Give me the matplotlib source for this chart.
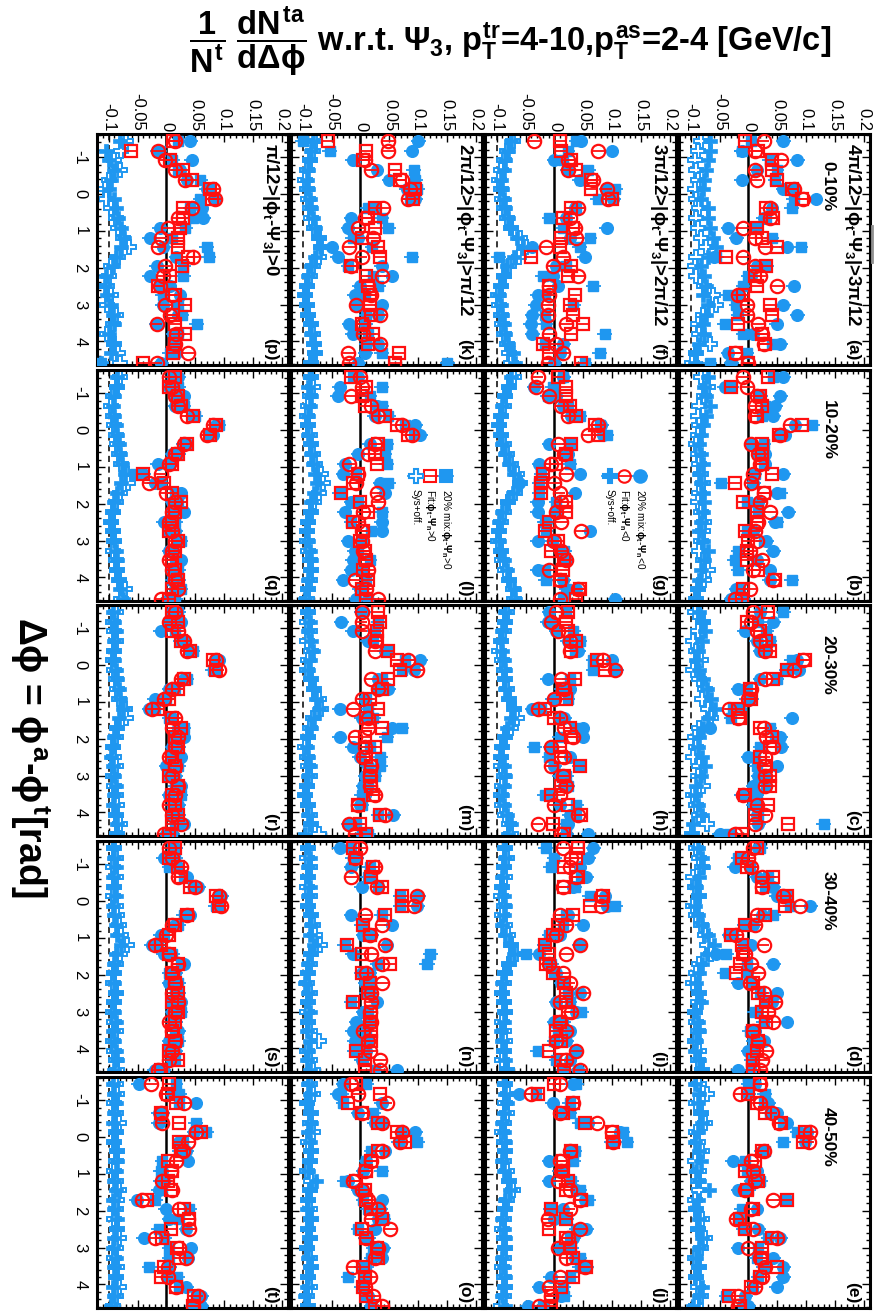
import matplotlib
matplotlib.use("Agg")
import matplotlib.pyplot as plt
from matplotlib.ticker import MultipleLocator, FixedLocator, FixedFormatter
from matplotlib.lines import Line2D

plt.rcParams['font.family'] = ['Liberation Sans', 'DejaVu Sans']
plt.rcParams['mathtext.fontset'] = 'custom'
plt.rcParams['mathtext.rm'] = 'Liberation Sans:bold'
plt.rcParams['mathtext.it'] = 'Liberation Sans:bold'
plt.rcParams['mathtext.bf'] = 'Liberation Sans:bold'
plt.rcParams['axes.unicode_minus'] = False

# Delta-phi bin centres [rad]
dphi = [-1.44, -1.18, -0.92, -0.65, -0.39, -0.13, 0.13, 0.39, 0.65, 0.92, 1.18, 1.44,
        1.70, 1.96, 2.23, 2.49, 2.75, 3.01, 3.27, 3.53, 3.80, 4.06, 4.32, 4.58]

centralities = ["0-10%", "10-20%", "20-30%", "30-40%", "40-50%"]
angle_bins = [r"$\pi$/12>|$\phi_{t}$-$\Psi_{3}$|>0",
              r"2$\pi$/12>|$\phi_{t}$-$\Psi_{3}$|>$\pi$/12",
              r"3$\pi$/12>|$\phi_{t}$-$\Psi_{3}$|>2$\pi$/12",
              r"4$\pi$/12>|$\phi_{t}$-$\Psi_{3}$|>3$\pi$/12"]
# panel letters: one string per angle bin, one letter per centrality
panel_ids = ["pqrst", "klmno", "fghij", "abcde"]

value_ticks = [-0.1, -0.05, 0, 0.05, 0.1, 0.15, 0.2]
value_tick_labels = ["-0.1", "-0.05", "0", "0.05", "0.1", "0.15", "0.2"]
dphi_ticks = [-1, 0, 1, 2, 3, 4]
dphi_tick_labels = ["-1", "0", "1", "2", "3", "4"]

# per-trigger pair yields, units of 1e-3
# 20% mixing, phi_t - Psi_n < 0
mix_lt0 = {
    "a": [60, -12, 84, 14, -12, 60, 116, 40, 26, -35, -21, 66, -59, 14, 5, 78, -18, 60, 84, 49, 8, 55, -35, -30],
    "b": [60, -41, 55, 46, 43, 81, 63, 5, 28, 28, 60, 8, 49, 17, 69, 46, 8, 31, 43, 14, 37, 37, -21, -30],
    "c": [20, 43, -6, 14, 20, 84, 87, 20, -18, 5, -15, 75, -67, 55, 57, 0, 49, 17, 8, -12, 14, 14, 17, -50],
    "d": [17, -12, -24, 14, 43, 49, 107, 23, 8, -33, 5, -56, 43, -3, -18, 49, 40, 14, 66, 11, 26, 0, 8, -18],
    "e": [11, 0, 34, 49, 66, 101, 98, 23, -27, 14, 5, -18, 66, 14, -15, 17, 55, -18, 43, 60, 60, 49, -6, 0],
    "f": [45, 99, 0, 23, 44, 90, 102, 35, 20, 90, 26, -38, 52, 3, -3, 6, -29, -32, -38, -41, -38, 15, 9, 0],
    "g": [15, -35, 3, 15, 29, 81, 84, -9, 23, -26, 44, -61, 35, -29, -29, -15, 61, -29, 15, 20, -29, 15, 38, 105],
    "h": [-9, -12, 3, 23, 41, 99, 107, -12, 26, -3, -38, 17, 49, 49, -6, 26, 0, 9, 17, -6, 9, 26, 23, 58],
    "i": [67, 58, 44, 55, 32, 87, 90, 23, 49, 9, 44, -26, -9, 3, 12, 44, 3, 38, 0, 26, 20, 38, 26, 41],
    "j": [32, -61, -3, 15, 58, 113, 99, 29, -9, 9, -9, 38, 52, 15, 0, 55, 32, 9, 35, 55, -6, -26, 12, -46],
    "k": [100, 89, -13, 28, 50, 80, 95, 25, -16, -21, -4, -50, -39, 37, 54, -1, -10, 37, 31, -19, -13, 31, 8, -4],
    "l": [-4, -36, -39, 28, 25, 95, 103, 16, -4, -27, -30, 34, 42, -16, -27, 37, 37, -21, -10, -13, -16, -30, -1, -7],
    "m": [5, -33, -13, 13, 42, 103, 92, 31, 48, 8, -36, 2, 54, -36, -13, -1, 13, 8, 5, 8, -1, 57, -21, 2],
    "n": [-36, -7, -16, 16, 2, 100, 98, -16, 54, 5, 45, -13, 30, 2, 8, 16, 28, 5, -7, -13, -10, 10, 2, 63],
    "o": [-30, -39, 37, -4, 25, 95, 66, 42, 10, 5, -21, -4, 37, 34, 31, 25, 8, 39, 37, 2, 8, 2, 13, 19],
    "p": [41, -15, 44, 23, 35, 70, 84, 61, 64, -12, -29, -6, 17, -17, -29, 6, 23, -6, 20, -17, 12, 15, 17, -9],
    "q": [20, 5, 30, 15, 45, 85, 80, 35, 10, -15, -40, -20, 25, 10, 30, -5, 15, 20, 5, 25, 10, 20, 15, 5],
    "r": [10, 25, -10, 30, 40, 90, 85, 30, 5, -20, -30, 10, 20, 30, 10, 25, 0, 15, 25, 5, 20, 10, 30, 0],
    "s": [15, -5, 20, 35, 55, 95, 90, 40, 15, -10, -25, -5, 30, 15, 5, 20, 25, 10, 15, 20, 5, 15, 10, -20],
    "t": [-48, 10, 51, -13, -13, 48, 22, 34, 37, -7, -4, -13, -51, -1, 5, 34, -39, 42, 37, 5, 2, 34, 60, 60],
}
# 20% mixing, phi_t - Psi_n > 0
mix_gt0 = {
    "a": [5, -12, 37, 49, 46, 78, 78, 75, 31, 14, 40, 90, -56, 31, 0, -9, -35, -21, -18, -41, -9, 40, -3, -67],
    "b": [43, -30, 20, 28, 23, 110, 55, 26, 17, 26, 11, -47, 55, -3, 17, 49, -3, 26, -18, -24, -18, 75, -15, -9],
    "c": [60, 17, 31, 37, 30, 75, 66, 49, -3, -3, -27, -30, 37, 46, 20, 11, 14, 28, 31, 14, 8, 17, 130, -33],
    "d": [20, -18, 2, 34, 28, 66, 72, 43, -6, -27, -9, -38, -3, -41, 5, 20, 31, 11, 26, 2, 8, 11, 5, 5],
    "e": [0, 28, 26, 37, 60, 84, 60, 28, -6, -3, 20, 0, 63, -12, -18, -9, 34, 17, 14, 26, 17, 8, -38, -9],
    "f": [38, 23, 15, 58, 46, 105, 75, 38, -9, 15, 61, 44, -96, 20, -20, 67, -17, 32, -17, -15, 87, -17, 78, 52],
    "g": [15, -3, -12, 23, 44, 78, 90, 26, 20, 26, -23, -26, -26, 3, 3, -17, -15, -3, 17, 17, -17, -15, 20, 15],
    "h": [20, -6, 32, 44, 35, 67, 67, 26, 12, 23, -23, 9, 35, 9, -35, -9, 44, 20, 23, -17, 38, 38, 20, 20],
    "i": [-15, 0, -6, 46, 35, 61, 105, 20, 15, -9, -17, -49, -6, 0, 15, 23, 26, 46, 15, 6, 0, -29, 3, 15],
    "j": [38, -32, 26, 26, 44, 118, 125, 35, 32, 12, 29, 44, 58, -6, 20, 38, 26, 29, 44, 44, 26, 15, 17, -20],
    "k": [-100, -53, -10, 92, 95, 98, 85, 13, 37, 48, -13, 20, 89, -21, 22, 31, 8, -7, 10, 8, 13, 10, 37, 150],
    "l": [-13, 37, 16, 37, 48, 77, 92, 45, 42, 45, -7, 48, -36, -4, 37, -16, 19, 2, -4, 16, 2, 10, 5, 13],
    "m": [2, 31, 25, 22, 45, 77, 71, 37, 31, 10, 13, 22, 71, 45, 16, 34, 34, 25, 13, 2, 2, 31, -7, 13],
    "n": [-16, -13, 16, 13, 31, 69, 69, 37, 2, 19, -27, 121, 115, 16, 19, 10, -16, 13, 19, 10, 13, -10, 5, 25],
    "o": [10, -33, -30, 22, 37, 71, 98, 19, 10, 37, -27, 2, 5, 13, 40, -4, 13, 22, 19, 10, -21, 5, 10, 19],
    "p": [20, -12, 10, 20, 58, 73, 58, 41, 46, 32, 9, 70, 73, 29, 29, -12, -6, 20, 26, 52, 20, 15, 6, -113],
    "q": [10, 20, 15, 30, 50, 90, 75, 30, 20, 5, -55, -10, 15, 20, 10, 15, 5, 25, 10, 15, 20, 10, 25, 15],
    "r": [20, 5, 15, 25, 45, 85, 80, 35, 15, 0, -20, 5, 30, 15, 20, 10, 20, 5, 15, 25, 10, 20, 15, 10],
    "s": [10, 15, 5, 30, 45, 90, 85, 30, 20, -5, -15, 10, 25, 5, 20, 15, 10, 25, 10, 15, 20, 5, 15, -5],
    "t": [16, 22, 22, -7, 51, 69, 28, 22, -7, -10, -10, -7, -19, 39, 22, -13, -4, 5, 5, -30, 19, 22, 51, 45],
}
# fit, phi_t - Psi_n < 0
fit_lt0 = {
    "a": [26, 11, 57, 11, 14, 78, 95, 37, 37, -9, 11, 28, -9, 11, 20, 49, -18, -3, -3, 17, 23, 26, -24, 0],
    "b": [-9, -3, 14, 11, 11, 72, 55, 5, 17, 20, 8, 5, 26, 20, 37, 17, 11, 14, 3, 23, 8, 43, 3, -24],
    "c": [8, 5, 14, 20, 28, 95, 78, 28, 5, 0, -33, -18, 26, 31, 43, 28, 26, 28, 28, -9, 14, 28, 11, -24],
    "d": [8, 0, 5, 23, 23, 60, 89, 14, 11, -21, 26, -6, 5, 17, 3, 26, 46, 34, 43, 8, 17, 31, 23, 20],
    "e": [20, -15, 20, 40, 52, 107, 104, 26, 5, 8, 11, -6, 43, 5, -21, 8, 49, 0, 20, 28, 23, 11, -18, -18],
    "f": [-35, 75, 23, 23, 67, 90, 93, 41, 26, 35, 38, -15, 15, -3, 41, -9, -9, -12, -12, 20, -9, 3, 15, -12],
    "g": [-29, -32, -9, 12, 23, 75, 58, 6, 17, -6, 20, 0, 9, 12, 3, 12, 46, 0, 12, 20, -9, 9, 41, 9],
    "h": [3, -6, 6, 26, 26, 84, 105, 12, 17, 0, -29, 9, 17, 32, -6, 17, -6, 15, 20, 9, 0, 41, -29, 12],
    "i": [15, 29, 26, 38, 15, 81, 81, 9, 20, 3, 44, 20, -9, 15, 26, 49, 9, 29, 9, 20, 3, 38, 20, 44],
    "j": [9, -41, 32, 9, 73, 99, 102, 26, 9, 12, 6, 26, 44, 26, -12, 44, 23, 6, 20, 52, 9, -9, -6, -26],
    "k": [48, 48, 8, 19, 71, 86, 83, 39, 8, -4, 22, -19, 2, -16, 37, 13, 19, -7, 34, 5, 5, 34, -21, -19],
    "l": [-1, 2, -16, 19, 31, 71, 89, 25, 13, -19, -4, -7, 28, 31, 5, -4, 2, 2, 5, 8, 13, -10, 10, 31],
    "m": [2, 2, 2, 25, 25, 83, 98, 19, 31, 2, -13, 13, 13, -10, 8, 5, 19, 16, 16, 25, -4, 42, -19, -10],
    "n": [-1, -10, 25, -16, 28, 98, 92, 8, 37, 16, 42, 19, 37, 10, 37, 19, 19, 16, 19, 5, 13, 16, 34, 34],
    "o": [-16, -4, 45, 2, 37, 71, 69, 37, 19, 8, -13, 2, 13, 31, 19, 51, 10, 31, 25, -13, 16, 8, 22, 37],
    "p": [15, -15, -3, 15, 32, 81, 84, 44, 20, 3, -9, -15, 46, -3, -6, -12, 9, -3, 6, -17, 17, 15, 38, -17],
    "q": [5, 10, 15, 20, 35, 80, 70, 30, 15, 5, -10, -30, 0, 15, 10, 5, 10, 15, 10, 5, 10, 15, 20, -10],
    "r": [15, 5, 20, 30, 35, 85, 90, 25, 10, -5, -25, 15, 10, 20, 15, 5, 15, 10, 20, 15, 5, 10, 25, -5],
    "s": [5, 10, 25, 20, 50, 90, 95, 35, 10, 0, -20, 5, 20, 10, 15, 10, 20, 15, 5, 10, 15, 10, 5, -15],
    "t": [-27, -1, 31, -10, -7, 51, 37, 28, 16, 8, -7, 10, -42, 22, 37, 39, -19, 22, 34, 2, 2, 16, 54, 45],
}
# fit, phi_t - Psi_n > 0
fit_gt0 = {
    "a": [-6, 17, 40, 40, 49, 75, 92, 31, 43, 14, 23, 49, -38, 31, 11, 14, -9, 37, 40, -18, 23, 28, -21, 0],
    "b": [34, -30, 20, 23, 14, 92, 52, 23, 23, 23, 40, -24, 26, -9, 14, 14, -6, 0, -3, -3, 17, 46, -9, -12],
    "c": [34, -3, 20, 31, 37, 98, 66, 43, 2, 5, -18, -15, 20, 40, 37, 20, 31, 37, 37, -6, 34, 11, 69, -12],
    "d": [14, -12, -3, 43, 23, 66, 63, 28, -6, -30, -12, -9, -15, -21, 8, 17, 31, 23, 31, 8, 17, 14, 8, 8],
    "e": [20, 0, 14, 28, 57, 98, 95, 23, 11, -6, 17, -3, 66, 8, -15, -6, 40, 23, 23, 49, 20, 5, -33, -15],
    "f": [9, 12, 29, 38, 64, 64, 99, 29, 15, 32, 12, 9, -41, 29, 23, -9, 35, 26, 32, 49, 29, -20, -9, 46],
    "g": [6, 20, 20, 26, 38, 70, 75, 29, 20, 3, -20, -23, -23, 20, 20, -9, -17, 6, -6, 17, 15, 9, 44, 38],
    "h": [23, 20, 23, 38, 29, 73, 87, 35, 15, 20, -17, 0, 26, 29, 9, 12, 44, 17, 12, -6, 23, 46, -3, 17],
    "i": [41, 38, 17, 41, 17, 84, 61, 32, 6, -3, -17, -9, -15, -3, 17, 20, 20, 23, 9, 3, 12, -9, 12, 17],
    "j": [0, -29, 32, 15, 52, 99, 102, 29, 15, 15, 23, 20, 46, -6, 20, -9, 20, 26, 32, 55, 32, 12, -6, -6],
    "k": [-56, 10, 5, 60, 69, 95, 90, 25, 13, 25, 2, 31, 34, -16, 10, 13, 16, 16, 19, 2, 22, 13, 66, 60],
    "l": [-16, 10, 2, 8, 42, 63, 83, 31, 25, 28, -4, -13, -33, -1, 13, -13, 5, -1, 8, 10, 5, 13, 2, 10],
    "m": [31, 34, 28, 28, 48, 63, 69, 48, 37, 16, 31, 10, 37, 8, 25, 10, 19, 16, 19, 22, -4, 34, -1, 10],
    "n": [-13, -7, 22, 19, 37, 71, 71, 42, 5, 16, -24, 2, 51, 2, 16, 13, -13, 19, 16, 19, 19, -7, 8, 8],
    "o": [-7, 34, -21, 2, 31, 63, 77, 31, 19, 10, -7, 8, 10, 19, 37, 2, 10, 28, 31, 5, 8, 5, 10, 25],
    "p": [12, -61, 6, 29, 44, 75, 78, 29, 29, 23, 20, 20, 38, 26, 6, -15, 15, 32, 12, 15, 32, 15, 12, -41],
    "q": [15, 5, 20, 25, 45, 85, 75, 35, 20, 10, -40, -5, 10, 25, 15, 10, 5, 20, 15, 10, 15, 20, 10, 5],
    "r": [10, 20, 10, 25, 40, 80, 85, 30, 20, 5, -15, 10, 25, 15, 20, 10, 15, 5, 20, 10, 15, 20, 10, 5],
    "s": [15, 5, 20, 25, 40, 85, 90, 35, 15, 5, -10, 5, 20, 10, 15, 20, 10, 20, 15, 10, 15, 5, 20, -10],
    "t": [5, 2, 16, -10, 22, 60, 22, 25, 2, 10, 2, 8, -33, 31, 39, 8, -7, 19, 22, -4, -10, 16, 48, 45],
}
# systematic band drawn with an offset, for the "<0" set
sys_lt0 = {
    "a": [-67, -67, -70, -73, -76, -79, -82, -70, -70, -67, -62, -56, -70, -82, -76, -73, -79, -70, -73, -79, -76, -85, -93, -93],
    "b": [-70, -76, -73, -67, -73, -79, -82, -85, -82, -79, -85, -82, -79, -76, -79, -82, -85, -79, -70, -76, -82, -85, -88, -91],
    "c": [-85, -80, -75, -80, -88, -90, -85, -78, -72, -65, -58, -70, -78, -85, -88, -80, -75, -82, -90, -92, -88, -80, -95, -100],
    "d": [-88, -80, -78, -85, -90, -88, -92, -88, -80, -70, -60, -72, -80, -85, -90, -88, -82, -92, -88, -85, -90, -92, -85, -82],
    "e": [-92, -85, -88, -82, -80, -88, -92, -85, -82, -90, -85, -68, -88, -92, -85, -88, -80, -85, -90, -88, -92, -80, -85, -95],
    "f": [-75, -80, -85, -88, -92, -90, -88, -85, -80, -75, -65, -55, -70, -82, -88, -92, -95, -93, -90, -88, -85, -80, -72, -68],
    "g": [-75, -80, -85, -90, -93, -95, -93, -90, -85, -78, -70, -62, -72, -82, -90, -95, -97, -95, -92, -88, -82, -78, -70, -68],
    "h": [-85, -88, -90, -92, -90, -88, -85, -88, -85, -80, -70, -75, -82, -88, -92, -92, -88, -85, -88, -90, -88, -82, -75, -80],
    "i": [-88, -85, -88, -90, -92, -88, -85, -88, -90, -85, -75, -70, -80, -88, -90, -92, -88, -85, -88, -92, -90, -88, -85, -82],
    "j": [-88, -85, -82, -88, -90, -88, -85, -88, -90, -88, -80, -76, -85, -88, -90, -88, -85, -88, -90, -88, -85, -88, -90, -85],
    "k": [-82, -85, -88, -90, -92, -90, -88, -85, -82, -78, -72, -70, -78, -85, -90, -92, -95, -92, -90, -88, -85, -82, -80, -88],
    "l": [-88, -90, -85, -88, -90, -92, -90, -88, -85, -82, -78, -75, -80, -85, -88, -90, -92, -90, -88, -85, -88, -90, -92, -95],
    "m": [-92, -88, -90, -85, -82, -88, -90, -88, -82, -76, -72, -80, -85, -90, -92, -90, -88, -90, -92, -95, -92, -90, -88, -95],
    "n": [-92, -88, -90, -92, -88, -90, -92, -88, -85, -88, -80, -88, -90, -92, -95, -90, -92, -88, -90, -92, -88, -90, -92, -88],
    "o": [-90, -88, -92, -88, -85, -90, -88, -85, -88, -90, -76, -88, -90, -92, -88, -90, -88, -92, -90, -88, -90, -92, -95, -92],
    "p": [-81, -105, -99, -90, -96, -99, -90, -87, -84, -78, -73, -78, -87, -93, -105, -107, -102, -96, -93, -90, -99, -93, -96, -113],
    "q": [-85, -88, -90, -92, -90, -88, -85, -82, -80, -76, -72, -78, -85, -90, -92, -95, -92, -90, -88, -85, -88, -82, -80, -75],
    "r": [-92, -90, -88, -90, -92, -90, -88, -85, -82, -80, -75, -82, -88, -90, -92, -95, -92, -90, -88, -90, -92, -88, -85, -88],
    "s": [-92, -90, -88, -92, -90, -88, -92, -90, -88, -85, -78, -88, -90, -92, -90, -88, -92, -90, -88, -92, -90, -88, -85, -90],
    "t": [-92, -90, -88, -90, -92, -88, -90, -88, -85, -88, -90, -88, -92, -90, -85, -88, -90, -92, -88, -90, -88, -92, -90, -95],
}
# systematic band drawn with an offset, for the ">0" set
sys_gt0 = {
    "a": [-82, -88, -93, -91, -88, -93, -91, -85, -91, -88, -82, -73, -91, -93, -91, -76, -62, -56, -79, -88, -85, -67, -91, -97],
    "b": [-82, -70, -76, -85, -88, -85, -88, -91, -88, -85, -82, -79, -85, -88, -82, -76, -79, -82, -85, -79, -70, -76, -88, -91],
    "c": [-92, -78, -88, -95, -90, -82, -95, -85, -75, -80, -70, -64, -85, -92, -90, -95, -85, -88, -78, -95, -90, -85, -72, -98],
    "d": [-90, -85, -80, -95, -92, -85, -95, -90, -82, -75, -72, -64, -85, -90, -95, -85, -88, -92, -90, -88, -92, -85, -88, -80],
    "e": [-85, -72, -90, -82, -75, -90, -88, -80, -92, -85, -88, -85, -92, -90, -80, -88, -75, -82, -92, -85, -90, -88, -82, -90],
    "f": [-72, -82, -88, -92, -95, -93, -90, -88, -82, -75, -60, -50, -62, -78, -88, -93, -97, -95, -92, -90, -88, -82, -78, -75],
    "g": [-70, -78, -85, -88, -92, -95, -92, -88, -82, -75, -65, -60, -68, -80, -88, -93, -95, -97, -93, -90, -85, -78, -72, -70],
    "h": [-82, -85, -88, -92, -95, -90, -88, -85, -82, -78, -70, -64, -75, -85, -90, -93, -92, -88, -90, -92, -90, -85, -78, -75],
    "i": [-85, -82, -88, -85, -90, -92, -88, -90, -85, -80, -75, -66, -78, -85, -88, -90, -88, -85, -90, -88, -85, -88, -90, -82],
    "j": [-85, -80, -85, -82, -88, -90, -88, -85, -88, -82, -78, -72, -82, -85, -88, -90, -88, -85, -88, -90, -88, -85, -88, -92],
    "k": [-78, -82, -88, -92, -95, -93, -90, -88, -85, -80, -72, -68, -72, -82, -88, -92, -95, -93, -90, -85, -82, -80, -78, -85],
    "l": [-85, -82, -88, -90, -92, -90, -88, -85, -82, -78, -68, -65, -72, -80, -85, -90, -92, -93, -90, -88, -85, -88, -90, -92],
    "m": [-90, -92, -88, -92, -85, -90, -92, -85, -80, -72, -68, -82, -88, -90, -95, -92, -90, -88, -92, -95, -90, -88, -85, -72],
    "n": [-90, -92, -88, -90, -92, -88, -90, -85, -82, -78, -70, -85, -88, -90, -92, -88, -90, -92, -90, -88, -72, -92, -88, -82],
    "o": [-88, -82, -92, -85, -88, -82, -90, -85, -88, -92, -85, -88, -90, -88, -85, -90, -88, -92, -88, -85, -90, -88, -92, -90],
    "p": [-70, -78, -90, -81, -99, -107, -105, -96, -87, -84, -75, -64, -84, -96, -99, -102, -96, -102, -87, -93, -102, -90, -84, -81],
    "q": [-80, -85, -92, -95, -92, -90, -88, -85, -82, -78, -68, -66, -80, -88, -92, -95, -93, -90, -92, -88, -85, -82, -72, -78],
    "r": [-88, -92, -90, -88, -90, -92, -90, -88, -85, -82, -72, -70, -85, -88, -92, -90, -88, -92, -90, -88, -85, -88, -80, -85],
    "s": [-90, -88, -92, -88, -90, -92, -88, -85, -82, -78, -68, -80, -88, -90, -92, -88, -90, -92, -90, -88, -92, -90, -88, -85],
    "t": [-88, -85, -90, -88, -82, -88, -90, -85, -88, -90, -88, -82, -85, -88, -90, -85, -82, -88, -90, -85, -88, -82, -88, -92],
}

BLUE = "#1f97f0"
RED = "#ff1010"
SCALE = 1e-3
MIX_ERR = 0.013
FIT_ERR = 0.010

W, H = 874, 1314
fig = plt.figure(figsize=(W / 100, H / 100), dpi=100)

col_left = [97, 291, 485, 679]
col_w = 191
row_top = [134, 370, 605, 841, 1077]
row_h = 231
XLIM = (-0.12, 0.21)
YLIM = (4.64, -1.63)


def add_px_axes(x0, y0, w, h):
    return fig.add_axes([x0 / W, 1 - (y0 + h) / H, w / W, h / H])


def scaled(vals):
    return [v * SCALE for v in vals]


for ci in range(4):
    for ri in range(5):
        pid = panel_ids[ci][ri]
        ax = add_px_axes(col_left[ci], row_top[ri], col_w, row_h)
        ax.set_xlim(*XLIM)
        ax.set_ylim(*YLIM)
        for sp in ax.spines.values():
            sp.set_linewidth(2.2)

        ax.axvline(0, color="black", lw=1.8, zorder=1)
        ax.axvline(-0.1, color="black", lw=1.1, ls=(0, (4, 3)), zorder=1)

        # systematic bands (offset)
        ax.plot(scaled(sys_gt0[pid]), dphi, ls="none", marker="P", ms=10.5,
                mfc="white", mec=BLUE, mew=1.4, zorder=2)
        ax.plot(scaled(sys_lt0[pid]), dphi, ls="none", marker="P", ms=10,
                mfc=BLUE, mec=BLUE, mew=0.5, zorder=2)

        # mixed-event points
        ax.errorbar(scaled(mix_lt0[pid]), dphi, xerr=MIX_ERR, ls="none", marker="o",
                    ms=8.4, mfc=BLUE, mec=BLUE, ecolor=BLUE, elinewidth=1.3,
                    capsize=0, zorder=3)
        ax.errorbar(scaled(mix_gt0[pid]), dphi, xerr=MIX_ERR, ls="none", marker="s",
                    ms=7.6, mfc=BLUE, mec=BLUE, ecolor=BLUE, elinewidth=1.3,
                    capsize=0, zorder=3)
        # fit points
        ax.errorbar(scaled(fit_lt0[pid]), dphi, xerr=FIT_ERR, ls="none", marker="o",
                    ms=9.6, mfc="none", mec=RED, mew=1.6, ecolor=RED, elinewidth=1.3,
                    capsize=0, zorder=4)
        ax.errorbar(scaled(fit_gt0[pid]), dphi, xerr=FIT_ERR, ls="none", marker="s",
                    ms=9.0, mfc="none", mec=RED, mew=1.6, ecolor=RED, elinewidth=1.3,
                    capsize=0, zorder=4)

        # ticks
        ax.xaxis.set_major_locator(FixedLocator(value_ticks))
        ax.xaxis.set_major_formatter(FixedFormatter(value_tick_labels))
        ax.xaxis.set_minor_locator(MultipleLocator(0.01))
        ax.yaxis.set_major_locator(FixedLocator(dphi_ticks))
        ax.yaxis.set_major_formatter(FixedFormatter(dphi_tick_labels))
        ax.yaxis.set_minor_locator(MultipleLocator(0.2))
        ax.tick_params(which="both", direction="in", top=True, bottom=True,
                       left=True, right=True, width=1.0, color="black")
        ax.tick_params(which="major", length=6)
        ax.tick_params(which="minor", length=3)
        ax.tick_params(axis="x", labelbottom=False, labeltop=(ri == 0),
                       labelsize=12, pad=2)
        ax.tick_params(axis="y", labelleft=(ci == 0), labelright=False,
                       labelsize=12, pad=7)
        for lab in ax.get_xticklabels():
            lab.set_rotation(-90)
        for lab in ax.get_yticklabels():
            lab.set_rotation(-90)
            lab.set_va("center")

        # panel annotations (text reads top-to-bottom)
        if ri == 0:
            ax.text(0.91, 0.96, angle_bins[ci], transform=ax.transAxes,
                    rotation=-90, ha="center", va="top", fontsize=13.5, fontweight="bold")
        if ci == 3:
            ax.text(0.78, 0.885 if ri == 0 else 0.87, centralities[ri],
                    transform=ax.transAxes, rotation=-90, ha="center", va="top",
                    fontsize=12.5, fontweight="bold")
        ax.text(0.91, 0.02, "(%s)" % pid, transform=ax.transAxes, rotation=-90,
                ha="center", va="bottom", fontsize=12.5, fontweight="bold")

        # legends in panels (g) and (l)
        if pid in ("g", "l"):
            if pid == "g":
                entries = [("o", BLUE, BLUE, r"20% mix:$\phi_{t}$-$\Psi_{n}$<0"),
                           ("o", "none", RED, r"Fit:$\phi_{t}$-$\Psi_{n}$<0"),
                           ("P", BLUE, BLUE, "Sys+off.")]
            else:
                entries = [("s", BLUE, BLUE, r"20% mix:$\phi_{t}$-$\Psi_{n}$>0"),
                           ("s", "none", RED, r"Fit:$\phi_{t}$-$\Psi_{n}$>0"),
                           ("P", "white", BLUE, "Sys+off.")]
            xs = [0.147, 0.120, 0.096]
            for (mk, fc, ec, txt), xv in zip(entries, xs):
                ax.plot([xv - 0.013, xv + 0.013], [1.25, 1.25], color=ec, lw=1.3, zorder=5)
                ax.plot([xv], [1.25], marker=mk, ms=9 if mk != "P" else 10, mfc=fc,
                        mec=ec, mew=1.5, ls="none", zorder=6)
                ax.text(xv, 1.6, txt, rotation=-90, ha="center", va="top",
                        fontsize=7.2, fontweight="normal")

# axis titles
fig.text(510 / W, 1 - 42 / H,
         r"$\dfrac{1}{N^{t}}\ \dfrac{dN^{ta}}{d\Delta\phi}$ w.r.t. $\Psi_{3}$, "
         r"$p_{T}^{tr}$=4-10,$p_{T}^{as}$=2-4 [GeV/c]",
         ha="center", va="center", fontsize=23.5, fontweight="bold")
fig.text(30 / W, 1 - 757 / H, r"$\Delta\phi$ = $\phi^{a}$-$\phi^{t}$[rad]",
         rotation=-90, ha="center", va="center", fontsize=27, fontweight="bold")

# thin grey mark at the right edge
fig.add_artist(Line2D([872 / W, 872 / W], [1 - 226 / H, 1 - 262 / H],
                      color="#909090", lw=2))

fig.savefig("out.png", dpi=100)
